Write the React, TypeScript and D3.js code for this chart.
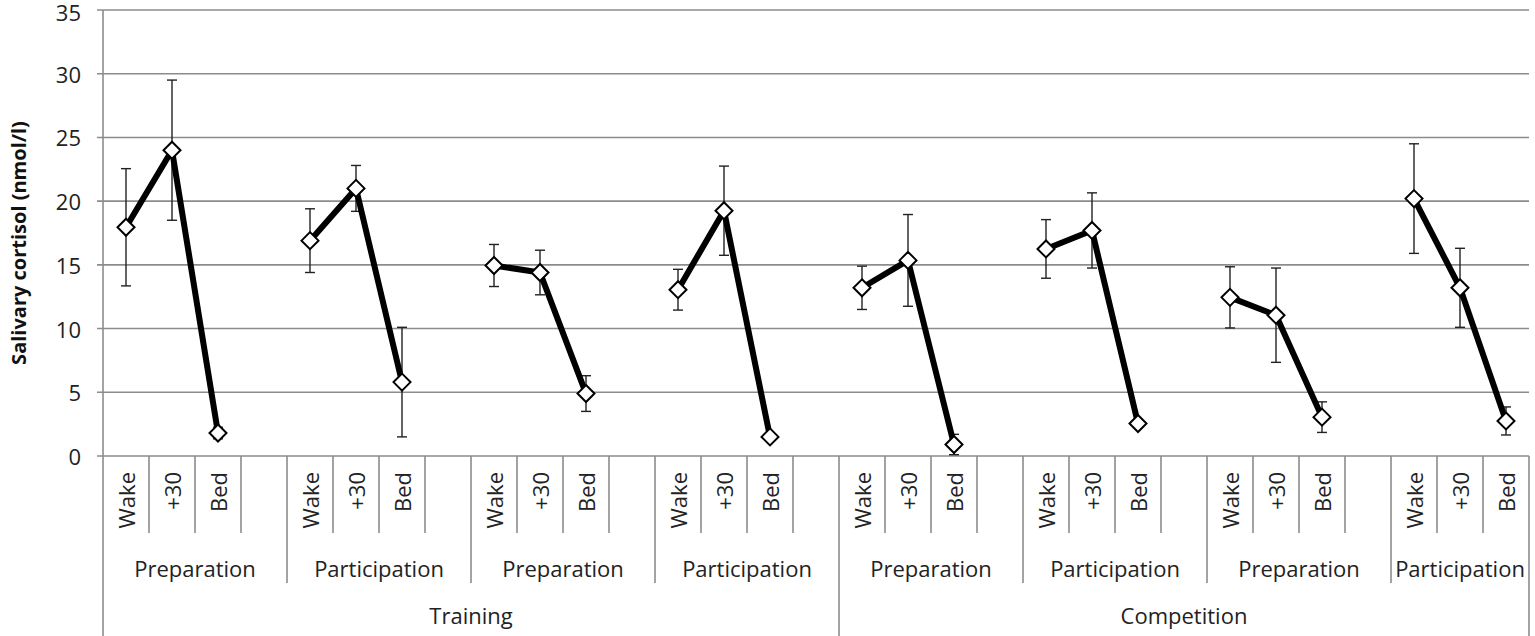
import React, { useEffect, useRef } from "react";
import * as d3 from "d3";

// 期間（外側の区分）
const periods = ["Training", "Competition"];
// 各グループのフェーズ
const phases = [
  "Preparation",
  "Participation",
  "Preparation",
  "Participation",
  "Preparation",
  "Participation",
  "Preparation",
  "Participation",
];
// 採取タイミング
const times = ["Wake", "+30", "Bed"];

// 平均値（グループごと）
const means = [
  [17.95, 24.0, 1.8],
  [16.9, 21.0, 5.8],
  [14.95, 14.4, 4.9],
  [13.05, 19.25, 1.5],
  [13.2, 15.35, 0.9],
  [16.25, 17.7, 2.55],
  [12.45, 11.05, 3.05],
  [20.2, 13.2, 2.75],
];

// 標準偏差（エラーバー）
const sds = [
  [4.6, 5.5, 0.45],
  [2.5, 1.8, 4.3],
  [1.65, 1.75, 1.4],
  [1.6, 3.5, 0.2],
  [1.7, 3.6, 0.8],
  [2.3, 2.95, 0.2],
  [2.4, 3.7, 1.2],
  [4.3, 3.1, 1.1],
];

const yTicks = [0, 5, 10, 15, 20, 25, 30, 35];
const yLabel = "Salivary cortisol (nmol/l)";

interface Slot {
  id: string;
  group: number;
  time: string | null;
}

// 各グループ4スロット（最後のグループのみ空きスロットなし）
const slots: Slot[] = [];
phases.forEach((_, g) => {
  times.forEach((t) => slots.push({ id: `${g}-${t}`, group: g, time: t }));
  if (g < phases.length - 1) slots.push({ id: `${g}-gap`, group: g, time: null });
});

const width = 1535;
const height = 636;
const margin = { top: 10, right: 6, bottom: 180, left: 103 };
const font = "'Open Sans', 'Noto Sans', sans-serif";
const fontSize = "22px";

export default function App() {
  const svgRef = useRef<SVGSVGElement>(null);

  useEffect(() => {
    if (!svgRef.current) return;
    const svg = d3.select(svgRef.current);
    svg.selectAll("*").remove();

    const x0 = margin.left;
    const x1 = width - margin.right;
    const yBottom = height - margin.bottom;

    const xScale = d3
      .scaleBand()
      .domain(slots.map((s) => s.id))
      .range([x0, x1])
      .padding(0);
    const bw = xScale.bandwidth();

    const yScale = d3.scaleLinear().domain([0, 35]).range([yBottom, margin.top]);

    // グリッド線 + Y軸目盛り
    const grid = svg.append("g");
    yTicks.forEach((t) => {
      grid
        .append("line")
        .attr("x1", x0 - 6)
        .attr("x2", x1)
        .attr("y1", yScale(t))
        .attr("y2", yScale(t))
        .attr("stroke", "#8c8c8c")
        .attr("stroke-width", 1.6);
      grid
        .append("text")
        .attr("x", x0 - 22)
        .attr("y", Math.max(yScale(t), 12))
        .attr("text-anchor", "end")
        .attr("dominant-baseline", "central")
        .style("font-family", font)
        .style("font-size", fontSize)
        .style("fill", "#222")
        .text(t);
    });

    // Y軸の縦線（下端まで）
    svg
      .append("line")
      .attr("x1", x0)
      .attr("x2", x0)
      .attr("y1", margin.top)
      .attr("y2", height)
      .attr("stroke", "#8c8c8c")
      .attr("stroke-width", 1.6);

    // X軸の区切り線
    const groupStart = (g: number) => xScale(slots.find((s) => s.group === g)!.id)!;
    const periodBreak = groupStart(4);
    for (let i = 1; i <= slots.length; i++) {
      const xx = i === slots.length ? x1 : xScale(slots[i].id)!;
      let yEnd = yBottom + 77;
      if (i === slots.length || xx === periodBreak) yEnd = height;
      else if (slots[i].group !== slots[i - 1].group) yEnd = yBottom + 127;
      svg
        .append("line")
        .attr("x1", xx)
        .attr("x2", xx)
        .attr("y1", yBottom)
        .attr("y2", yEnd)
        .attr("stroke", "#8c8c8c")
        .attr("stroke-width", 1.6);
    }

    // 時刻ラベル（回転）
    slots
      .filter((s) => s.time)
      .forEach((s) => {
        const cx = xScale(s.id)! + bw / 2;
        svg
          .append("text")
          .attr("transform", `translate(${cx},${yBottom + 16}) rotate(-90)`)
          .attr("text-anchor", "end")
          .attr("dominant-baseline", "central")
          .style("font-family", font)
          .style("font-size", fontSize)
          .style("fill", "#222")
          .text(s.time as string);
      });

    // フェーズラベル
    phases.forEach((p, g) => {
      const gs = slots.filter((s) => s.group === g);
      const a = xScale(gs[0].id)!;
      const b = xScale(gs[gs.length - 1].id)! + bw;
      svg
        .append("text")
        .attr("x", (a + b) / 2)
        .attr("y", yBottom + 112)
        .attr("text-anchor", "middle")
        .attr("dominant-baseline", "central")
        .style("font-family", font)
        .style("font-size", fontSize)
        .style("fill", "#222")
        .text(p);
    });

    // 期間ラベル
    periods.forEach((p, i) => {
      const a = i === 0 ? x0 : periodBreak;
      const b = i === 0 ? periodBreak : x1;
      svg
        .append("text")
        .attr("x", (a + b) / 2)
        .attr("y", yBottom + 159)
        .attr("text-anchor", "middle")
        .attr("dominant-baseline", "central")
        .style("font-family", font)
        .style("font-size", fontSize)
        .style("fill", "#222")
        .text(p);
    });

    // Y軸ラベル
    svg
      .append("text")
      .attr("transform", `translate(18,${(margin.top + yBottom) / 2 + 10}) rotate(-90)`)
      .attr("text-anchor", "middle")
      .attr("dominant-baseline", "central")
      .style("font-family", font)
      .style("font-size", "20px")
      .style("font-weight", "bold")
      .style("fill", "#111")
      .text(yLabel);

    // エラーバー、ライン、マーカー
    const line = d3
      .line<[number, number]>()
      .x((d) => d[0])
      .y((d) => d[1]);

    means.forEach((vals, g) => {
      const pts: [number, number][] = vals.map((v, k) => [
        xScale(`${g}-${times[k]}`)! + bw / 2,
        yScale(v),
      ]);

      const eb = svg.append("g").attr("stroke", "#222").attr("stroke-width", 1.4);
      vals.forEach((v, k) => {
        const cx = pts[k][0];
        const hi = yScale(v + sds[g][k]);
        const lo = yScale(Math.max(0, v - sds[g][k]));
        eb.append("line").attr("x1", cx).attr("x2", cx).attr("y1", hi).attr("y2", lo);
        eb.append("line").attr("x1", cx - 5).attr("x2", cx + 5).attr("y1", hi).attr("y2", hi);
        eb.append("line").attr("x1", cx - 5).attr("x2", cx + 5).attr("y1", lo).attr("y2", lo);
      });

      svg
        .append("path")
        .datum(pts)
        .attr("fill", "none")
        .attr("stroke", "#000")
        .attr("stroke-width", 6)
        .attr("stroke-linejoin", "round")
        .attr("d", line);

      pts.forEach(([cx, cy]) => {
        svg
          .append("path")
          .attr("d", `M${cx},${cy - 8.5}L${cx + 8.5},${cy}L${cx},${cy + 8.5}L${cx - 8.5},${cy}Z`)
          .attr("fill", "#fff")
          .attr("stroke", "#000")
          .attr("stroke-width", 2);
      });
    });
  }, []);

  return (
    <svg
      ref={svgRef}
      width={width}
      height={height}
      style={{ position: "absolute", left: 0, top: 0, background: "#fff" }}
    />
  );
}
